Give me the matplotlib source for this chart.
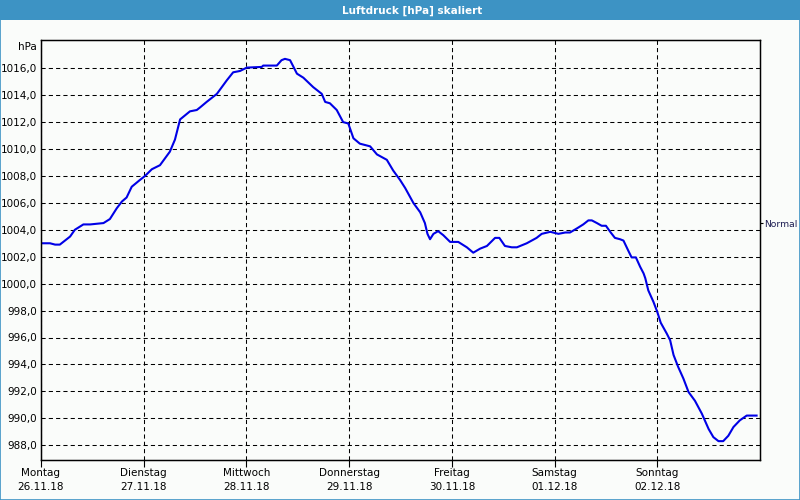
import matplotlib.pyplot as plt
from matplotlib.patches import Rectangle

# hours since Monday 00:00 and pressure in hPa
hours = [0, 2.1, 3.3, 4.4, 6.8, 7.9, 9.9, 11.5, 14.6, 16.1, 17.7, 18.9, 20.0, 21.2,
         23.1, 24.3, 25.9, 27.8, 30.1, 31.3, 32.5, 34.8, 36.4, 37.2, 38.7, 41.1,
         43.4, 44.9, 46.5, 48.1, 51.6, 51.9, 55.1, 56.2, 57.0, 58.2, 59.8, 61.3,
         63.6, 65.6, 66.4, 67.5, 69.1, 70.6, 71.8, 73.0, 74.5, 76.9, 78.5, 80.8,
         82.3, 83.9, 85.1, 87.0, 88.6, 89.7, 90.3, 90.9, 91.7, 92.8, 94.0, 95.6,
         97.5, 99.5, 101.0, 102.6, 104.2, 106.1, 107.1, 108.4, 110.0, 111.2, 113.5,
         115.8, 117.0, 119.0, 120.9, 122.5, 123.6, 125.2, 126.7, 127.9, 128.7,
         129.9, 131.0, 132.0, 133.0, 134.1, 135.3, 136.1, 137.3, 138.0, 139.0,
         140.0, 140.8, 141.2, 141.9, 143.1, 144.0, 144.8, 146.2, 147.0, 147.8,
         148.9, 150.1, 151.3, 152.8, 154.4, 156.0, 157.1, 158.3, 159.4, 160.6,
         161.8, 163.3, 164.9, 167.2]
pressure = [1003.0, 1003.0, 1002.9, 1002.9, 1003.5, 1004.0, 1004.4, 1004.4, 1004.5,
            1004.8, 1005.6, 1006.1, 1006.4, 1007.2, 1007.7, 1008.0, 1008.5, 1008.8,
            1009.8, 1010.7, 1012.2, 1012.8, 1012.9, 1013.1, 1013.5, 1014.1, 1015.1,
            1015.7, 1015.8, 1016.05, 1016.1, 1016.2, 1016.2, 1016.6, 1016.7, 1016.6,
            1015.6, 1015.3, 1014.6, 1014.1, 1013.5, 1013.4, 1012.9, 1012.0, 1011.9,
            1010.8, 1010.4, 1010.2, 1009.6, 1009.2, 1008.4, 1007.7, 1007.1, 1006.0,
            1005.3, 1004.5, 1003.7, 1003.3, 1003.7, 1003.9, 1003.6, 1003.1, 1003.1,
            1002.7, 1002.3, 1002.6, 1002.8, 1003.4, 1003.4, 1002.8, 1002.7, 1002.7,
            1003.0, 1003.4, 1003.7, 1003.85, 1003.7, 1003.8, 1003.8, 1004.1, 1004.4,
            1004.7, 1004.7, 1004.5, 1004.3, 1004.3, 1003.85, 1003.4, 1003.3, 1003.2,
            1002.4, 1001.95, 1001.95, 1001.25, 1000.76, 1000.4, 999.5, 998.65, 997.9,
            997.1, 996.3, 995.8, 994.7, 993.8, 992.95, 991.95, 991.3, 990.35, 989.2,
            988.6, 988.3, 988.3, 988.7, 989.35, 989.85, 990.2, 990.2]

days = ["Montag", "Dienstag", "Mittwoch", "Donnerstag", "Freitag", "Samstag", "Sonntag"]
dates = ["26.11.18", "27.11.18", "28.11.18", "29.11.18", "30.11.18", "01.12.18", "02.12.18"]
day_hours = [0, 24, 48, 72, 96, 120, 144]
y_ticks = [988, 990, 992, 994, 996, 998, 1000, 1002, 1004, 1006, 1008, 1010,
           1012, 1014, 1016]
normal = 1004.5

bar_color = "#3d93c4"
bg = "#fafcfa"

plt.rcParams['font.family'] = ['DejaVu Sans']
fig = plt.figure(figsize=(8, 5), dpi=100, facecolor=bg)

# title bar and border
fig.patches.append(Rectangle((0, 0.96), 1, 0.04, transform=fig.transFigure,
                             facecolor=bar_color, edgecolor="none"))
fig.patches.append(Rectangle((0.0006, 0.001), 0.9988, 0.998, transform=fig.transFigure,
                             facecolor="none", edgecolor=bar_color, linewidth=1.2))
fig.text(0.515, 0.979, "Luftdruck [hPa] skaliert", color="white", fontsize=7.5,
         fontweight="bold", ha="center", va="center")

ax = fig.add_axes([0.05125, 0.08, 0.89875, 0.84])
ax.set_facecolor(bg)
ax.plot(hours, pressure, color="#0000e6", linewidth=1.5)

ax.set_xlim(0, 168)
ax.set_ylim(986.9, 1018.1)

ax.set_yticks(y_ticks)
ax.set_yticklabels([f"{v:.1f}".replace(".", ",") for v in y_ticks], fontsize=7.5)
ax.set_xticks(day_hours)
ax.set_xticklabels([d + "\n" + t for d, t in zip(days, dates)], fontsize=7.5,
                   linespacing=1.5)
ax.tick_params(axis="y", length=0, pad=3)
ax.tick_params(axis="x", length=5, width=0.8, pad=1, direction="out")

ax.grid(True, color="black", linestyle=(0, (4, 3)), linewidth=0.75)
for s in ax.spines.values():
    s.set_linewidth(1.0)
    s.set_color("black")

fig.text(37 / 800, 1 - 47 / 500, "hPa", fontsize=7.5, ha="right", va="center")

# normal pressure marker on the right
ax2 = ax.twinx()
ax2.set_ylim(ax.get_ylim())
ax2.set_yticks([normal])
ax2.set_yticklabels(["Normal"], fontsize=6.6, color="#1a1a50")
ax2.tick_params(axis="y", length=2, width=0.8, pad=1)

fig.savefig("out.png", dpi=100, facecolor=bg)
